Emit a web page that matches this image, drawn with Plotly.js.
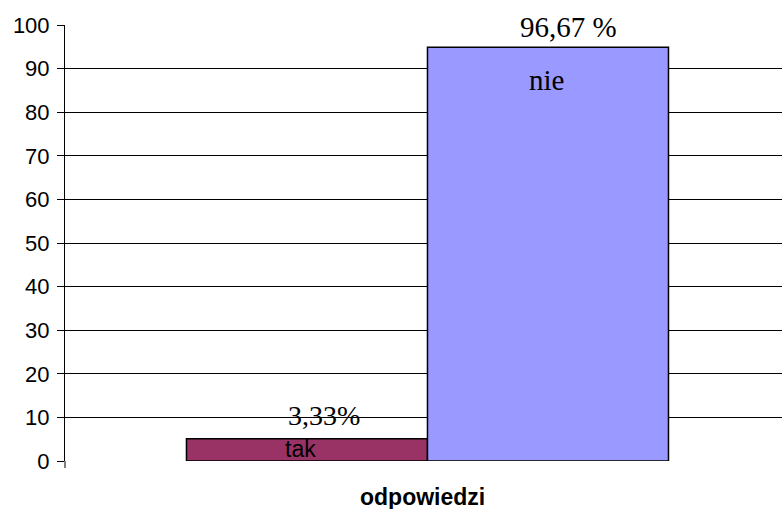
<!DOCTYPE html>
<html>
<head>
<meta charset="utf-8">
<script src="https://cdn.plot.ly/plotly-3.0.1.min.js"></script>
<style>html,body{margin:0;padding:0;background:#fff;}#chart{width:782px;height:509px;}</style>
</head>
<body>
<div id="chart"></div>
<script>
const categories = ["tak", "nie"];
const values = [5.1, 94.9];
const percentLabels = ["3,33%", "96,67 %"];
const barColors = ["#993366", "#9999FF"];
const yTicks = [0, 10, 20, 30, 40, 50, 60, 70, 80, 90, 100];
const xTitle = "odpowiedzi";

const trace = {
  type: "bar",
  x: categories,
  y: values,
  width: 1,
  marker: { color: barColors, line: { color: "#000", width: 1.5 } },
  hoverinfo: "skip"
};

const serif = "Liberation Serif, Times New Roman, serif";
const sans = "Liberation Sans, Arial, sans-serif";

const annotations = [
  { x: categories[0], y: values[0], xref: "x", yref: "y", text: percentLabels[0], showarrow: false,
    xshift: 17, yshift: 23, yanchor: "middle", font: { family: serif, size: 28, color: "#000" } },
  { x: categories[1], y: values[1], xref: "x", yref: "y", text: percentLabels[1], showarrow: false,
    xshift: 21, yshift: 20, yanchor: "middle", font: { family: serif, size: 29, color: "#000" } },
  { x: categories[0], y: 0, xref: "x", yref: "y", text: categories[0], showarrow: false,
    xshift: -6, yshift: 12, yanchor: "middle", font: { family: sans, size: 23, color: "#000" } },
  { x: categories[1], y: values[1], xref: "x", yref: "y", text: categories[1], showarrow: false,
    xshift: -1, yshift: -33, yanchor: "middle", font: { family: serif, size: 29, color: "#000" } },
  { x: 0.5, y: -0.0826, xref: "paper", yref: "paper", text: "<b>" + xTitle + "</b>", showarrow: false,
    xshift: -1, yanchor: "middle", font: { family: sans, size: 23, color: "#000" } }
];

const layout = {
  width: 782, height: 509,
  margin: { l: 65, r: 0, t: 25, b: 48 },
  paper_bgcolor: "#fff", plot_bgcolor: "#fff",
  showlegend: false,
  bargap: 0,
  xaxis: {
    type: "category",
    range: [-1.004, 1.971],
    showticklabels: false,
    showgrid: false,
    zeroline: false,
    showline: false,
    ticks: ""
  },
  yaxis: {
    range: [0, 100],
    tickvals: yTicks,
    ticktext: yTicks.map(String),
    ticks: "outside",
    ticklen: 7,
    tickcolor: "#000",
    tickwidth: 1,
    ticklabelstandoff: 3,
    showline: true,
    linecolor: "#000",
    linewidth: 1,
    showgrid: true,
    gridcolor: "#000",
    gridwidth: 1,
    zeroline: false,
    tickfont: { family: sans, size: 22, color: "#000" }
  },
  shapes: [
    { type: "line", xref: "paper", yref: "paper", x0: 0, x1: 0, y0: 0, y1: -7 / 436, line: { color: "#000", width: 1 } }
  ],
  annotations: annotations
};

Plotly.newPlot("chart", [trace], layout, { staticPlot: true, displayModeBar: false });
</script>
</body>
</html>
